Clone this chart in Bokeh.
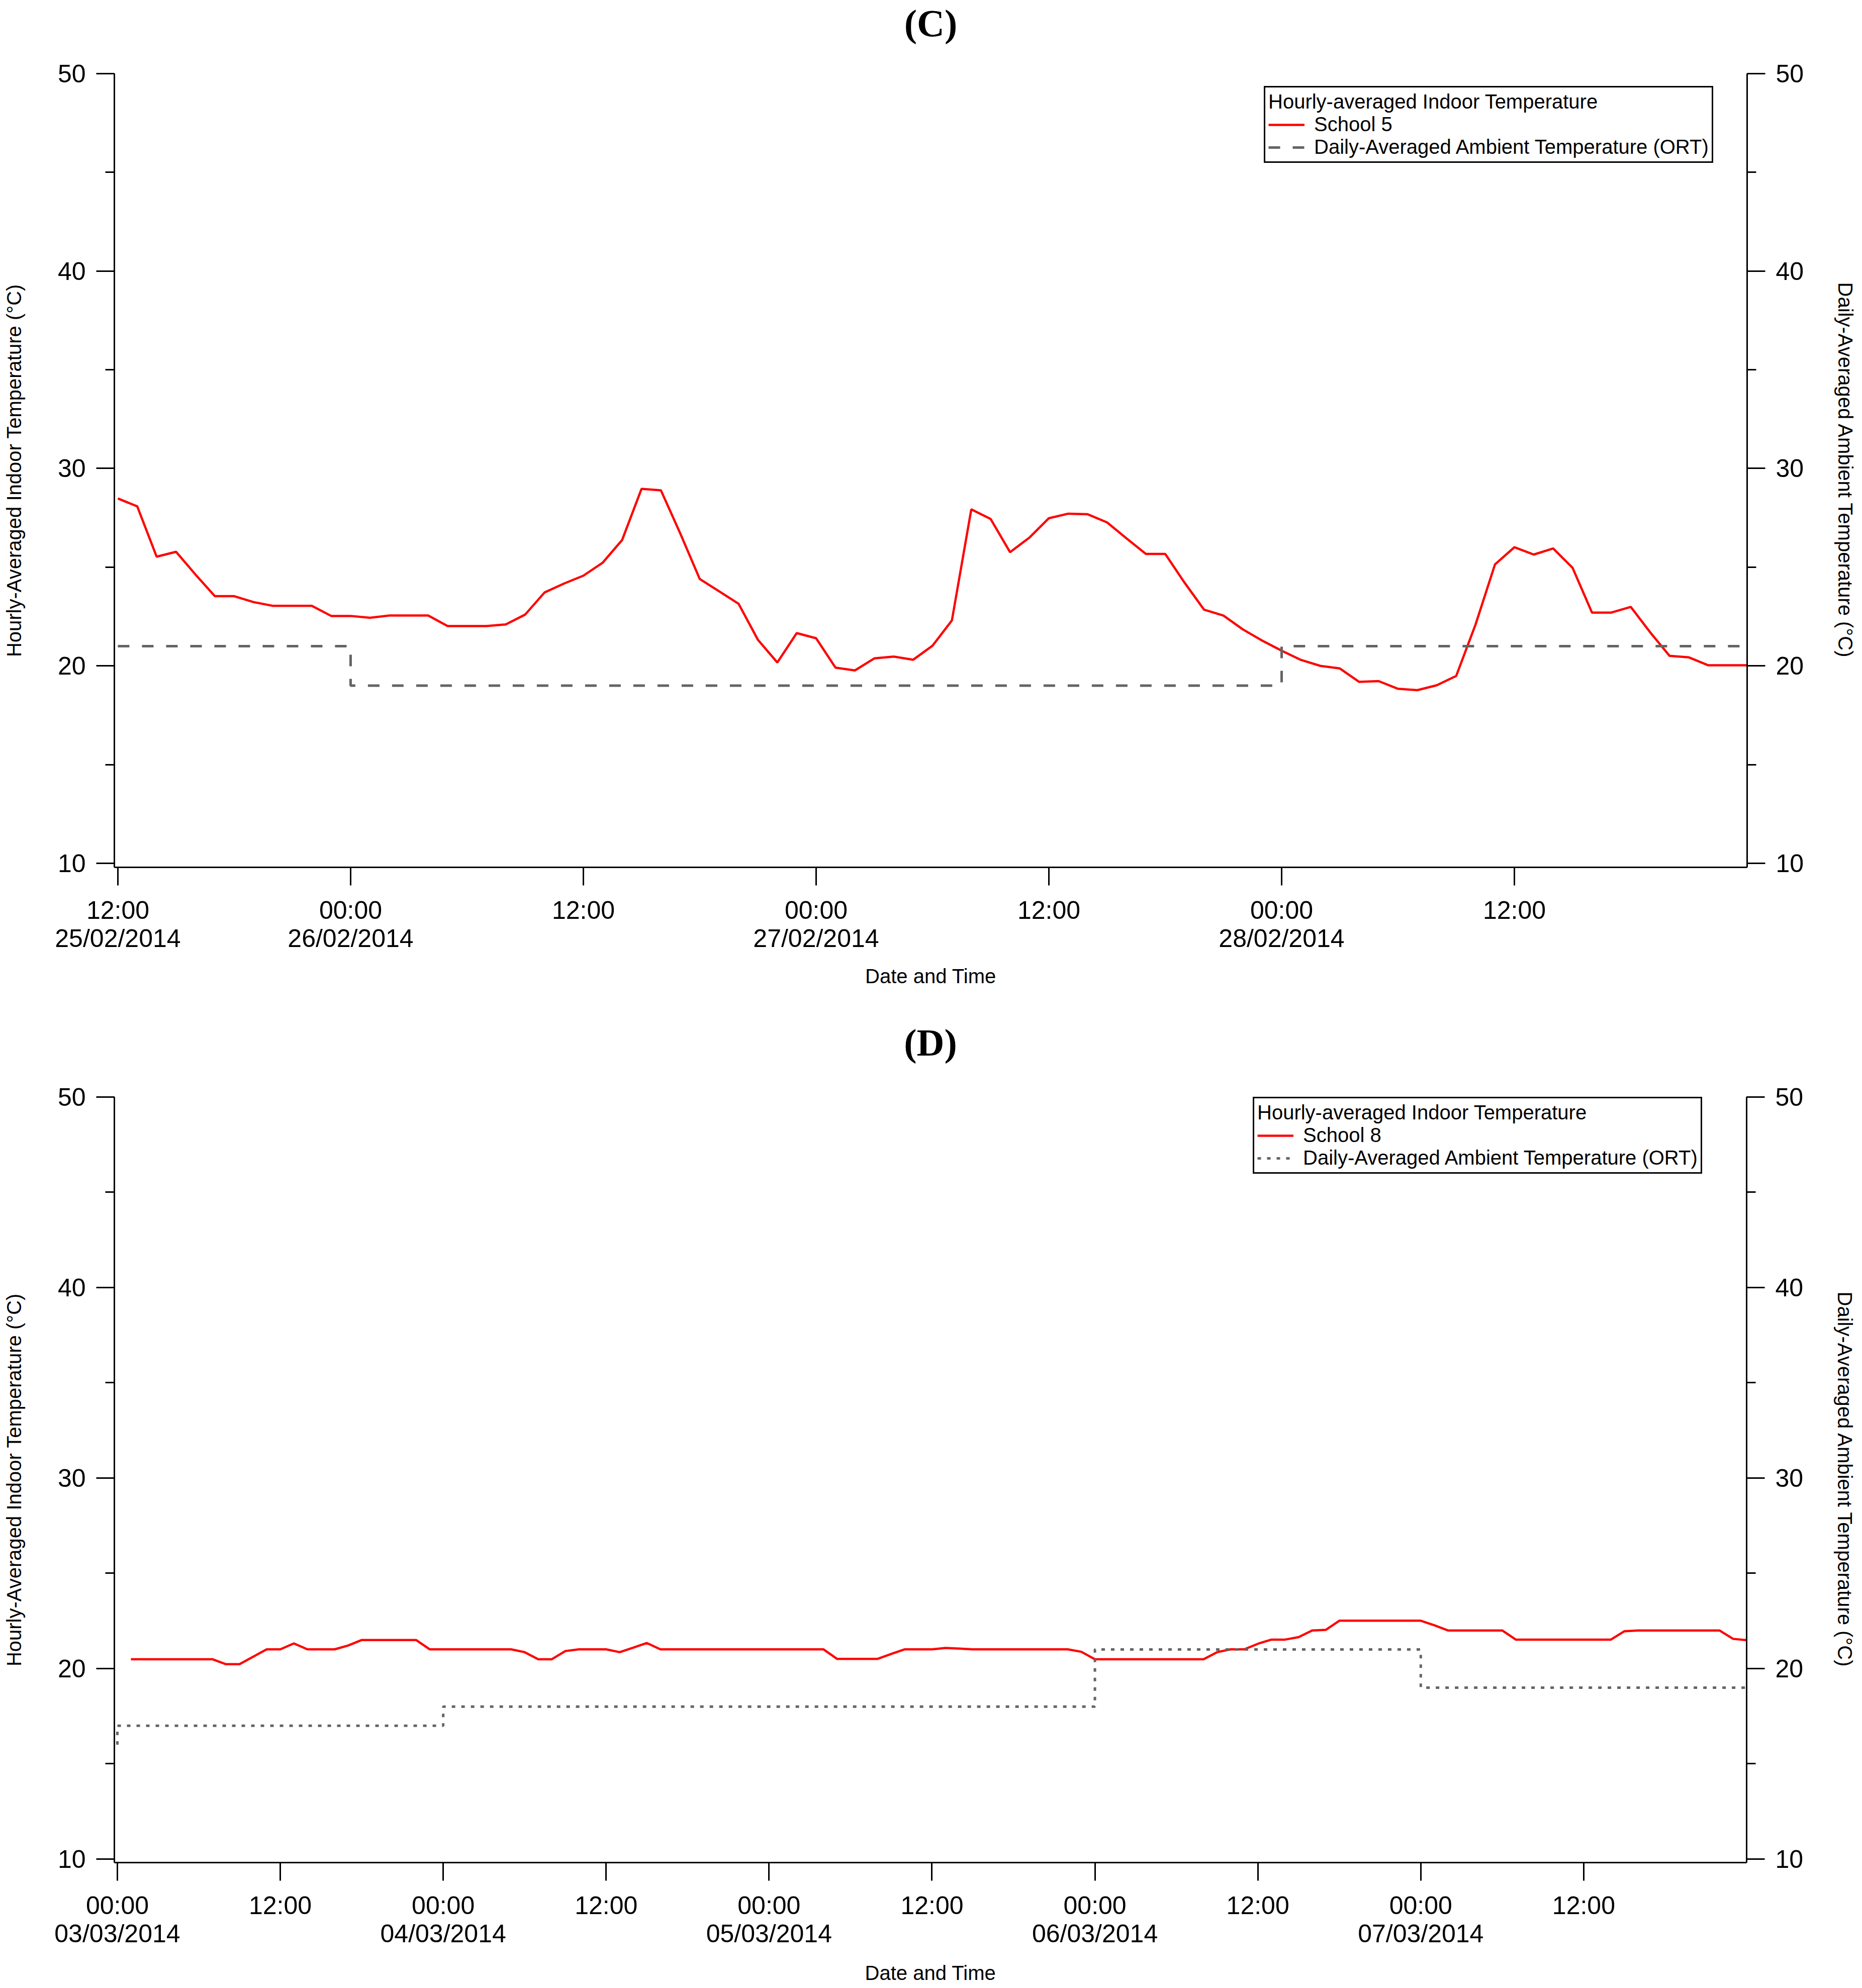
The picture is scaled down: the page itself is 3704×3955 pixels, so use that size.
from bokeh.plotting import figure
from bokeh.models import (Range1d, FixedTicker, SingleIntervalTicker, LinearAxis,
                          Legend, LegendItem, Label)
from bokeh.layouts import column
from bokeh.embed import file_html
from bokeh.resources import INLINE

# ---------------- Data: panel (C) ----------------
# hours after 12:00 25/02/2014
c_hours = list(range(0, 85))
c_school5 = [28.48, 28.08, 25.53, 25.78, 24.63, 23.53, 23.53, 23.23, 23.04, 23.04,
             23.04, 22.53, 22.53, 22.44, 22.55, 22.55, 22.55, 22.02, 22.02, 22.02,
             22.10, 22.60, 23.72, 24.17, 24.57, 25.23, 26.38, 28.97, 28.89, 26.70,
             24.40, 23.78, 23.15, 21.32, 20.17, 21.66, 21.40, 19.91, 19.77, 20.38,
             20.47, 20.31, 21.02, 22.30, 27.93, 27.44, 25.76, 26.50, 27.48, 27.71,
             27.68, 27.27, 26.46, 25.67, 25.67, 24.21, 22.85, 22.55, 21.85, 21.28,
             20.77, 20.30, 20.00, 19.87, 19.19, 19.23, 18.84, 18.77, 19.02, 19.49,
             22.10, 25.14, 26.01, 25.64, 25.95, 24.97, 22.70, 22.70, 22.99, 21.70,
             20.51, 20.43, 20.03, 20.03, 20.03]
c_ort_hours = [0, 12, 36, 60, 84]
c_ort = [21, 19, 19, 21, 21]
c_ticks = [0, 12, 24, 36, 48, 60, 72]
c_tick_labels = ["12:00\n25/02/2014", "00:00\n26/02/2014", "12:00",
                 "00:00\n27/02/2014", "12:00", "00:00\n28/02/2014", "12:00"]

# ---------------- Data: panel (D) ----------------
# hours after 00:00 03/03/2014
d_hours = list(range(1, 121))
d_school8 = ([20.49] * 7 + [20.23, 20.23, 20.62, 21.01, 21.01, 21.32, 21.01, 21.01, 21.01,
             21.21, 21.50, 21.50, 21.50, 21.50, 21.50, 21.01]
             + [21.01] * 6 + [20.86, 20.49, 20.49, 20.92, 21.01, 21.01, 21.01, 20.86, 21.10, 21.34]
             + [21.01] * 13 + [20.51] * 4 + [20.77, 21.01, 21.01, 21.01, 21.08, 21.05]
             + [21.01] * 8 + [20.88] + [20.49] * 9
             + [20.86, 21.01, 21.01, 21.30, 21.52, 21.52, 21.65, 22.00, 22.03]
             + [22.51] * 7 + [22.27] + [22.00] * 5 + [21.52] * 8 + [21.96]
             + [22.00] * 7 + [21.56, 21.49])
d_ort_hours = [0, 0, 24, 48, 72, 96, 120]
d_ort = [16, 17, 18, 18, 21, 19, 19]
d_ticks = [0, 12, 24, 36, 48, 60, 72, 84, 96, 108]
d_tick_labels = ["00:00\n03/03/2014", "12:00", "00:00\n04/03/2014", "12:00",
                 "00:00\n05/03/2014", "12:00", "00:00\n06/03/2014", "12:00",
                 "00:00\n07/03/2014", "12:00"]

FONT = "Liberation Sans"
RED = "#ff0000"
GRAY = "#646464"


def title_strip(letter, xr, fw, bl, br, height, center_from_top):
    t = figure(frame_width=fw, frame_height=height,
               x_range=Range1d(*xr), y_range=Range1d(0, height),
               x_axis_type=None, y_axis_type=None,
               output_backend="svg", toolbar_location=None,
               min_border_left=bl, min_border_right=br,
               min_border_top=0, min_border_bottom=0)
    t.outline_line_color = None
    t.grid.visible = False
    t.add_layout(Label(x=(xr[0] + xr[1]) / 2, y=height - center_from_top, text=letter,
                       text_align="center", text_baseline="middle",
                       text_font="Liberation Serif", text_font_style="bold",
                       text_font_size="76px", text_color="black"))
    return t


def style_axis(ax, label):
    ax.axis_label = label
    ax.axis_label_text_font = FONT
    ax.axis_label_text_font_size = "40px"
    ax.axis_label_text_font_style = "normal"
    ax.axis_label_text_color = "black"
    ax.major_label_text_font = FONT
    ax.major_label_text_font_size = "50px"
    ax.major_label_text_color = "black"
    ax.axis_line_width = 3
    ax.axis_line_color = "black"
    ax.major_tick_line_width = 3
    ax.minor_tick_line_width = 3
    ax.major_tick_line_color = "black"
    ax.minor_tick_line_color = "black"
    ax.major_tick_out = 36
    ax.major_tick_in = 0
    ax.minor_tick_out = 18
    ax.minor_tick_in = 0
    ax.major_label_standoff = 21


def make_panel(hours, temps, school, ort_h, ort_v, dash, xr, y0,
               ticks, tick_labels, fw, fh, bl, br, bt, bb, leg_xy, xlab_standoff):
    p = figure(frame_width=fw, frame_height=fh,
               x_range=Range1d(*xr), y_range=Range1d(y0, 50),
               output_backend="svg", toolbar_location=None,
               min_border_left=bl, min_border_right=br,
               min_border_top=bt, min_border_bottom=bb)
    p.outline_line_color = None
    p.grid.visible = False
    p.background_fill_color = "white"
    p.border_fill_color = "white"

    # bottom axis
    xa = p.xaxis[0]
    xa.ticker = FixedTicker(ticks=ticks, minor_ticks=[])
    xa.major_label_overrides = {t: l for t, l in zip(ticks, tick_labels)}
    style_axis(xa, "Date and Time")
    xa.major_label_text_line_height = 1.0
    xa.axis_label_standoff = xlab_standoff

    # left axis
    ya = p.yaxis[0]
    ya.ticker = SingleIntervalTicker(interval=10, num_minor_ticks=2)
    style_axis(ya, "Hourly-Averaged Indoor Temperature (\u00b0C)")
    ya.axis_label_standoff = 62

    # right axis
    ra = LinearAxis(ticker=SingleIntervalTicker(interval=10, num_minor_ticks=2))
    style_axis(ra, "Daily-Averaged Ambient Temperature (\u00b0C)")
    ra.axis_label_standoff = 58
    p.add_layout(ra, "right")

    r_in = p.line(hours, temps, line_color=RED, line_width=4.5)
    r_ort = p.step(ort_h, ort_v, mode="after", line_color=GRAY,
                   line_width=5, line_dash=dash)

    legend = Legend(items=[LegendItem(label=school, renderers=[r_in]),
                           LegendItem(label="Daily-Averaged Ambient Temperature (ORT)",
                                      renderers=[r_ort])],
                    title="Hourly-averaged Indoor Temperature",
                    location=leg_xy)
    legend.title_text_font = FONT
    legend.title_text_font_size = "40px"
    legend.title_text_font_style = "normal"
    legend.title_text_color = "black"
    legend.title_standoff = 0
    legend.label_text_font = FONT
    legend.label_text_font_size = "40px"
    legend.label_text_color = "black"
    legend.label_height = 44
    legend.glyph_height = 44
    legend.glyph_width = 72
    legend.label_standoff = 19
    legend.padding = 6
    legend.spacing = 0
    legend.margin = 0
    legend.border_line_color = "black"
    legend.border_line_alpha = 1.0
    legend.border_line_width = 3
    legend.background_fill_color = "white"
    legend.background_fill_alpha = 1.0
    p.add_layout(legend)
    return p


C_XR = (-0.18, 84.0)
D_XR = (-0.22, 120.0)

tc = title_strip("(C)", C_XR, 3248, 226, 212, 92, 45)
pc = make_panel(c_hours, c_school5, "School 5", c_ort_hours, c_ort, "23 25",
                C_XR, 9.796, c_ticks, c_tick_labels,
                fw=3248, fh=1579, bl=226, br=212, bt=54, bb=267,
                leg_xy=(2287, 1401), xlab_standoff=22)
td = title_strip("(D)", D_XR, 3247, 227, 212, 140, 81)
pd_ = make_panel(d_hours, d_school8, "School 8", d_ort_hours, d_ort, "7 12",
                 D_XR, 9.815, d_ticks, d_tick_labels,
                 fw=3247, fh=1523, bl=227, br=212, bt=50, bb=235,
                 leg_xy=(2265, 1370), xlab_standoff=25)

layout = column(tc, pc, td, pd_, spacing=0)
open("out.html", "w").write(file_html(layout, INLINE))
